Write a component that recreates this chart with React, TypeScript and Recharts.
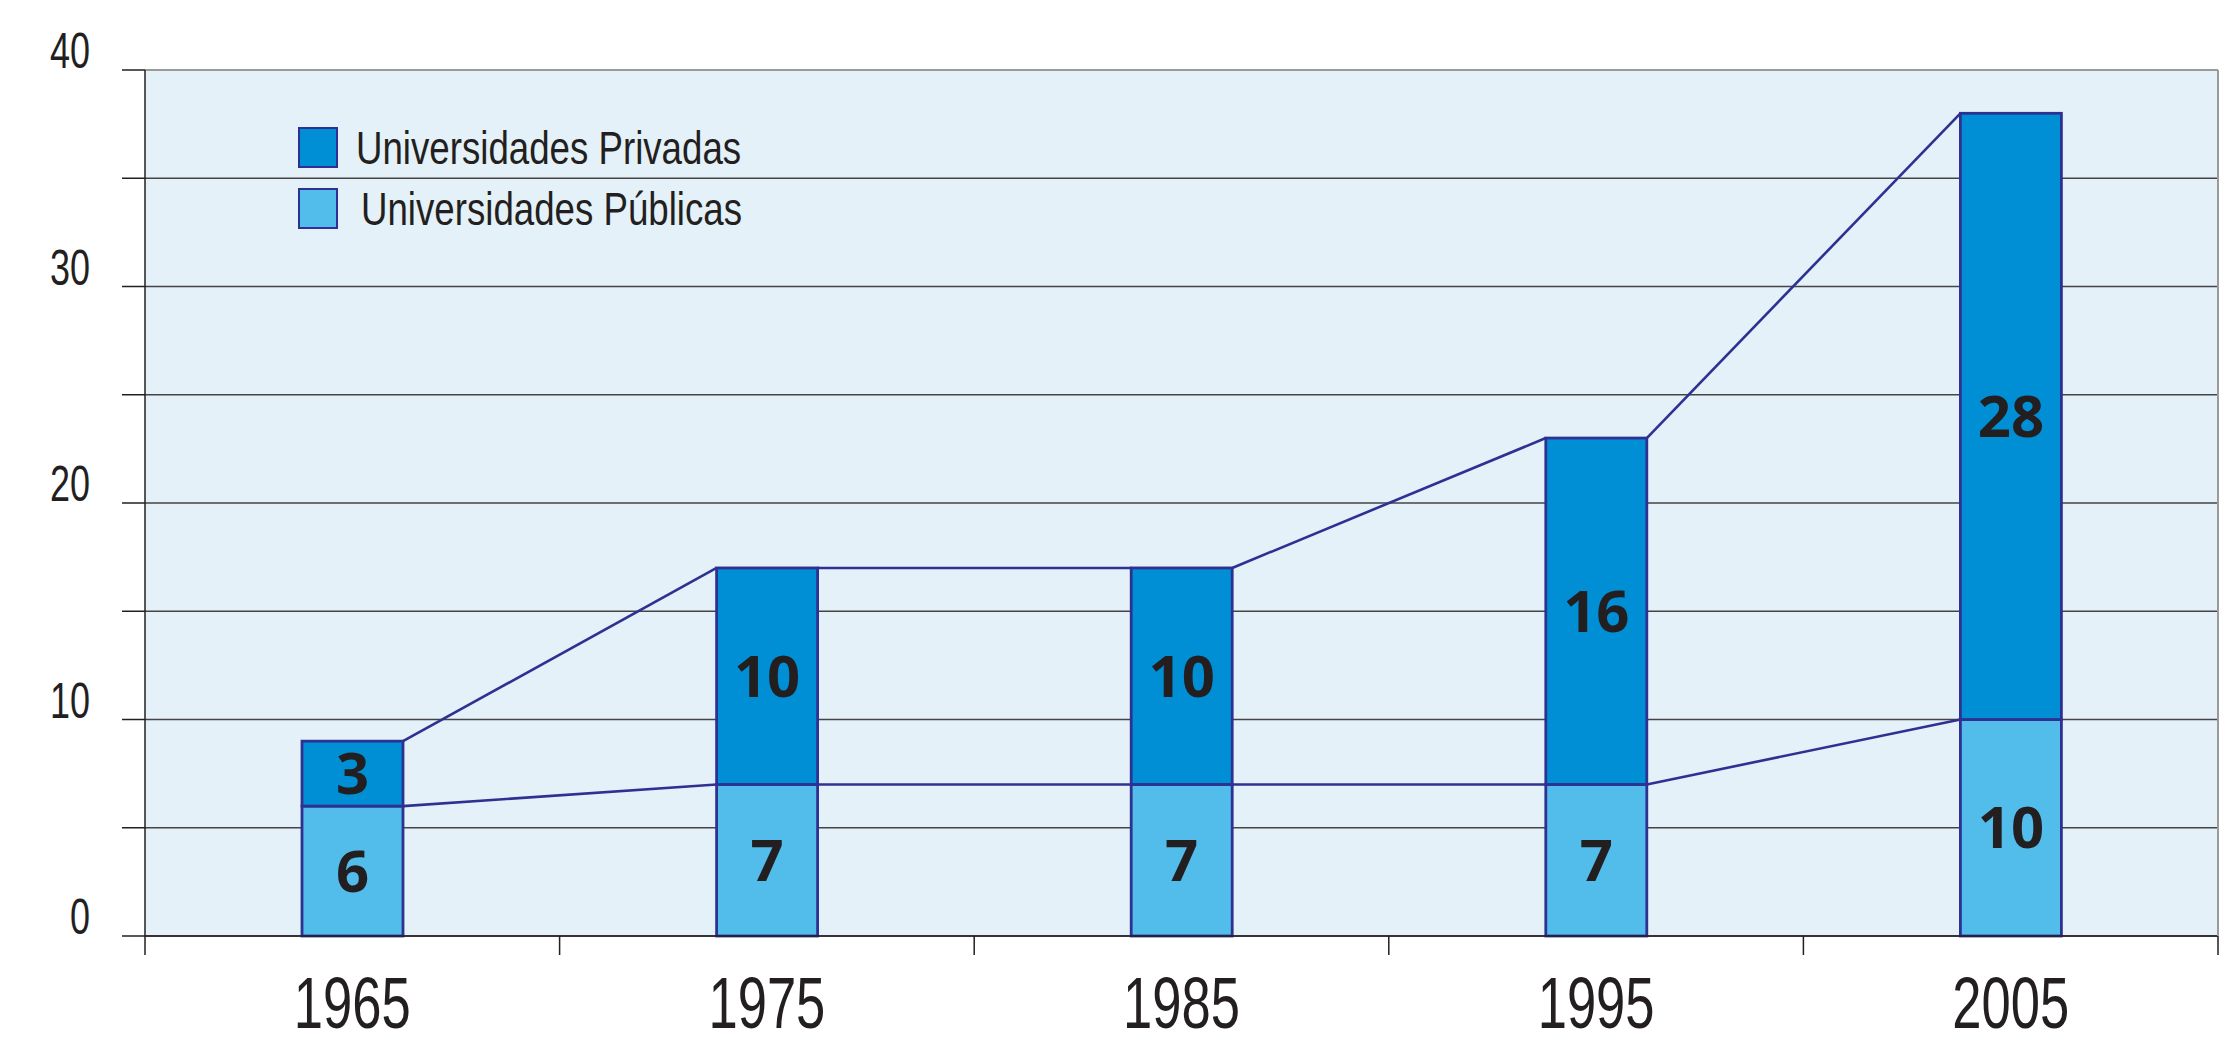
import React from "react";
import {
  BarChart,
  Bar,
  XAxis,
  YAxis,
  CartesianGrid,
  LabelList,
  Legend,
  ReferenceLine,
} from "recharts";

const years = ["1965", "1975", "1985", "1995", "2005"];
const publicas = [6, 7, 7, 7, 10];
const privadas = [3, 10, 10, 16, 28];
const yTicks = [0, 5, 10, 15, 20, 25, 30, 35, 40];
const seriesNames = ["Universidades Privadas", "Universidades Públicas"];

const data = years.map((year, i) => ({
  year,
  pub: publicas[i],
  priv: privadas[i],
}));

const INK = "#231f20";
const EDGE = "#2e3192";
const PRIV = "#008fd5";
const PUB = "#52bdea";
const SANS = "'Liberation Sans', Arial, sans-serif";

// remembers where the previous bar of each series ended, so the next one can join it
const corners: Record<string, { x: number; y: number; w: number }[]> = {
  pub: [],
  priv: [],
};

const makeShape = (key: string, fill: string) => (props: any) => {
  const { x, y, width, height, index } = props;
  corners[key][index] = { x, y, w: width };
  const prev = index > 0 ? corners[key][index - 1] : null;
  return (
    <g>
      <rect x={x} y={y} width={width} height={height} fill={fill} stroke={EDGE} strokeWidth={2.8} />
      {prev && (
        <line x1={prev.x + prev.w} y1={prev.y} x2={x} y2={y} stroke={EDGE} strokeWidth={2.6} />
      )}
    </g>
  );
};

// narrow type: the original uses a condensed face
const YTick = (props: any) => {
  const { x, y, payload } = props;
  if (payload.value % 10 !== 0) return <g />;
  return (
    <g transform={`translate(${x - 30},${y - 2}) scale(0.72,1)`}>
      <text x={0} y={0} textAnchor="end" fontSize={50} fill={INK} fontFamily={SANS}>
        {payload.value}
      </text>
    </g>
  );
};

// year label + tick marks on the category boundaries (half a band either side)
const XTick = (props: any) => {
  const { x, y, payload, index, visibleTicksCount } = props;
  const half = payload.offset || 0;
  const last = index === visibleTicksCount - 1;
  return (
    <g>
      <line x1={x - half} x2={x - half} y1={y} y2={y + 19} stroke={INK} strokeWidth={1.5} />
      {last && <line x1={x + half} x2={x + half} y1={y} y2={y + 19} stroke={INK} strokeWidth={1.5} />}
      <g transform={`translate(${x},${y + 92}) scale(0.73,1)`}>
        <text x={0} y={0} textAnchor="middle" fontSize={72} fill={INK} fontFamily={SANS}>
          {payload.value}
        </text>
      </g>
    </g>
  );
};

const LegendBox = () => {
  const fills = [PRIV, PUB];
  return (
    <div style={{ fontFamily: SANS, color: INK }}>
      {seriesNames.map((name, i) => (
        <div key={name} style={{ display: "flex", alignItems: "center", height: 41, marginBottom: 20 }}>
          <div
            style={{
              width: 36,
              height: 37,
              background: fills[i],
              border: `2.5px solid ${EDGE}`,
              marginRight: 18 + i * 5,
              flex: "none",
            }}
          />
          <span
            style={{
              fontSize: 47,
              lineHeight: "41px",
              whiteSpace: "nowrap",
              display: "inline-block",
              transform: "scaleX(0.78)",
              transformOrigin: "left center",
            }}
          >
            {name}
          </span>
        </div>
      ))}
    </div>
  );
};

export default function App() {
  return (
    <div style={{ position: "absolute", left: 0, top: 0, background: "#fff" }}>
      <BarChart
        width={2233}
        height={1045}
        data={data}
        margin={{ top: 70, right: 14, bottom: 108, left: 0 }}
      >
        <CartesianGrid vertical={false} stroke="#444" strokeWidth={1.3} fill="#e4f1f8" />
        <XAxis
          dataKey="year"
          height={1}
          tickLine={false}
          tickSize={0}
          tickMargin={0}
          axisLine={{ stroke: INK, strokeWidth: 1.5 }}
          tick={<XTick />}
          interval={0}
        />
        <YAxis
          width={145}
          domain={[0, 40]}
          ticks={yTicks}
          interval={0}
          tickSize={23}
          tickLine={{ stroke: INK, strokeWidth: 1.5 }}
          axisLine={{ stroke: INK, strokeWidth: 1.5 }}
          tick={<YTick />}
        />
        <YAxis
          yAxisId="r"
          orientation="right"
          width={1}
          domain={[0, 40]}
          tick={false}
          tickLine={false}
          axisLine={{ stroke: "#9a9a9a", strokeWidth: 2 }}
        />
        <ReferenceLine y={40} stroke="#9a9a9a" strokeWidth={2} />
        <Legend
          layout="horizontal"
          verticalAlign="middle"
          align="center"
          content={<LegendBox />}
          wrapperStyle={{ position: "absolute", left: 298, top: 127, width: 600 }}
        />
        <Bar dataKey="pub" stackId="u" barSize={101} shape={makeShape("pub", PUB)} isAnimationActive={false}>
          <LabelList
            dataKey="pub"
            position="center"
            fill={INK}
            fontSize={58}
            fontWeight={700}
            fontFamily="'Open Sans', sans-serif"
          />
        </Bar>
        <Bar dataKey="priv" stackId="u" barSize={101} shape={makeShape("priv", PRIV)} isAnimationActive={false}>
          <LabelList
            dataKey="priv"
            position="center"
            fill={INK}
            fontSize={58}
            fontWeight={700}
            fontFamily="'Open Sans', sans-serif"
          />
        </Bar>
      </BarChart>
    </div>
  );
}
